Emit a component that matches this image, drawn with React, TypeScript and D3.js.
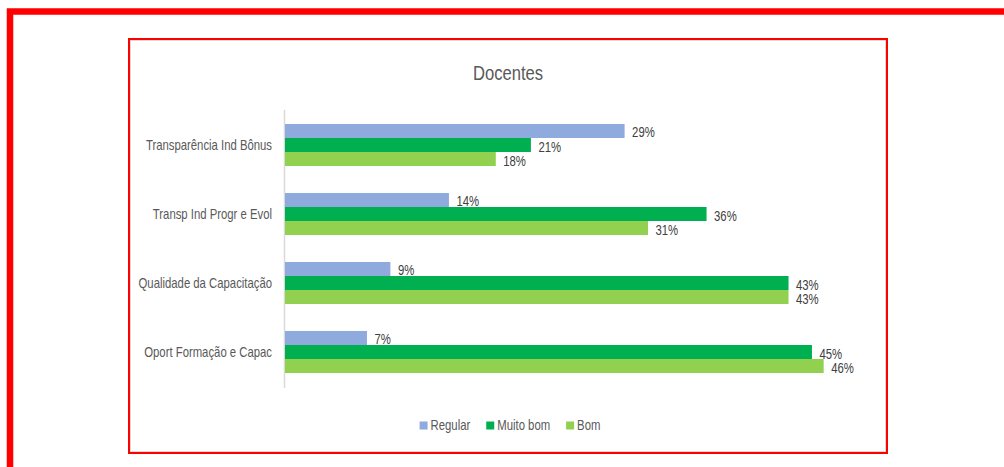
import React, { useEffect, useRef } from "react";
import * as d3 from "d3";

const categories = [
  "Transparência Ind Bônus",
  "Transp Ind Progr e Evol",
  "Qualidade da Capacitação",
  "Oport Formação e Capac",
];
const seriesNames = ["Regular", "Muito bom", "Bom"];
const regular = [0.29, 0.14, 0.09, 0.07];
const muitoBom = [0.21, 0.36, 0.43, 0.45];
const bom = [0.18, 0.31, 0.43, 0.46];
const seriesColors = ["#8faadc", "#00b050", "#92d050"];
const title = "Docentes";

const FONT = "'Liberation Sans', Arial, sans-serif";
const SX = 0.81; // horizontal squeeze to mimic the condensed look

export default function App() {
  const ref = useRef<SVGSVGElement | null>(null);

  useEffect(() => {
    const svg = d3.select(ref.current);
    svg.selectAll("*").remove();

    const values = [regular, muitoBom, bom];
    const tr = (x: number, y: number) => `translate(${x},${y}) scale(${SX},1)`;

    // outer frame
    svg.append("rect")
      .attr("x", 10).attr("y", 11.5)
      .attr("width", 1100).attr("height", 600)
      .attr("fill", "none").attr("stroke", "#ff0000").attr("stroke-width", 6.5);

    // inner chart box
    svg.append("rect")
      .attr("x", 130.5).attr("y", 40.5)
      .attr("width", 755).attr("height", 411)
      .attr("fill", "none").attr("stroke", "#d9d9d9").attr("stroke-width", 1);
    svg.append("rect")
      .attr("x", 129).attr("y", 39)
      .attr("width", 758).attr("height", 414)
      .attr("fill", "none").attr("stroke", "#ff0000").attr("stroke-width", 2);

    // title
    svg.append("text")
      .attr("transform", tr(508, 80))
      .attr("text-anchor", "middle")
      .attr("font-family", FONT)
      .attr("font-size", 20.5)
      .attr("fill", "#595959")
      .text(title);

    const x = d3.scaleLinear().domain([0, 0.5]).range([285, 870.5]);
    const y = d3.scaleBand<string>()
      .domain(categories)
      .range([110.5, 386.5])
      .paddingInner(0.391)
      .paddingOuter(0.1955);
    const ySub = d3.scaleBand<string>()
      .domain(seriesNames)
      .range([0, y.bandwidth()]);

    // axis line
    svg.append("line")
      .attr("x1", 284.5).attr("x2", 284.5)
      .attr("y1", 110).attr("y2", 388)
      .attr("stroke", "#d9d9d9").attr("stroke-width", 1.5);

    // category labels
    svg.append("g").selectAll("text")
      .data(categories)
      .join("text")
      .attr("transform", (d) => tr(272, (y(d) as number) + y.bandwidth() / 2 + 5))
      .attr("text-anchor", "end")
      .attr("font-family", FONT)
      .attr("font-size", 14)
      .attr("fill", "#595959")
      .text((d) => d);

    seriesNames.forEach((s, si) => {
      const g = svg.append("g");
      g.selectAll("rect")
        .data(categories)
        .join("rect")
        .attr("x", x(0))
        .attr("y", (d) => (y(d) as number) + (ySub(s) as number))
        .attr("width", (_d, i) => x(values[si][i]) - x(0))
        .attr("height", ySub.bandwidth())
        .attr("fill", seriesColors[si]);
      g.selectAll("text")
        .data(categories)
        .join("text")
        .attr("transform", (d, i) =>
          tr(x(values[si][i]) + 7.5, (y(d) as number) + (ySub(s) as number) + ySub.bandwidth() / 2 + 6.5))
        .attr("font-family", FONT)
        .attr("font-size", 14)
        .attr("fill", "#404040")
        .text((_d, i) => `${Math.round(values[si][i] * 100)}%`);
    });

    // legend
    const leg = svg.append("g");
    const items = seriesNames.map((s, i) => {
      const it = leg.append("g");
      it.append("rect").attr("x", 0).attr("y", -8.5).attr("width", 8).attr("height", 8).attr("fill", seriesColors[i]);
      const t = it.append("text")
        .attr("transform", tr(11, 0))
        .attr("font-family", FONT)
        .attr("font-size", 14)
        .attr("fill", "#595959")
        .text(s);
      const w = (t.node() as SVGTextElement).getComputedTextLength() * SX;
      return { it, w: 11 + w };
    });
    const gap = 16;
    const total = items.reduce((a, b) => a + b.w, 0) + gap * (items.length - 1);
    let cx = 510 - total / 2;
    items.forEach((o) => {
      o.it.attr("transform", `translate(${cx},430)`);
      cx += o.w + gap;
    });
  }, []);

  return (
    <svg
      ref={ref}
      width={1004}
      height={467}
      style={{ position: "absolute", left: 0, top: 0, background: "#ffffff" }}
    />
  );
}
